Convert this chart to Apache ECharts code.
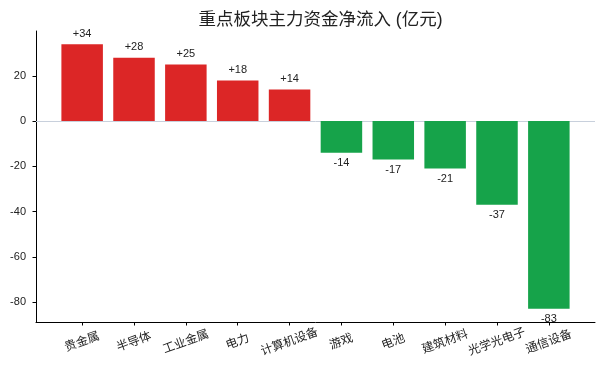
<!DOCTYPE html>
<html>
<head>
<meta charset="utf-8">
<script src="https://cdn.jsdelivr.net/npm/echarts@6/dist/echarts.min.js"></script>
<style>
html,body{margin:0;padding:0;background:#fff;}
#chart{width:602px;height:373px;}
</style>
</head>
<body>
<div id="chart"></div>
<script>
const title = '重点板块主力资金净流入 (亿元)';
const categories = ['贵金属', '半导体', '工业金属', '电力', '计算机设备', '游戏', '电池', '建筑材料', '光学光电子', '通信设备'];
const values = [34, 28, 25, 18, 14, -14, -17, -21, -37, -83];
const yTicks = [-80, -60, -40, -20, 0, 20];

const FONT = '"Liberation Sans", Arial, "Noto Sans CJK SC", sans-serif';
const RED = '#dc2626';
const GREEN = '#16a34a';

const chart = echarts.init(document.getElementById('chart'), null, {renderer: 'canvas'});
const catIdx = categories.map((c, i) => i);

chart.setOption({
  animation: false,
  backgroundColor: '#ffffff',
  title: {
    text: title,
    left: 315.5,
    textAlign: 'center',
    top: 6,
    textStyle: {fontFamily: FONT, fontSize: 17.5, fontWeight: 'normal', color: '#222'}
  },
  grid: {left: 36, right: 7, top: 31, bottom: 51, containLabel: false},
  xAxis: {
    type: 'value',
    min: -0.89,
    max: 9.89,
    splitLine: {show: false},
    axisLine: {show: true, onZero: false, lineStyle: {color: '#000', width: 1}},
    axisTick: {show: true, length: 3.5, lineStyle: {color: '#000'}, customValues: catIdx},
    axisLabel: {
      customValues: catIdx,
      formatter: v => categories[Math.round(v)] || '',
      rotate: 20,
      align: 'center',
      verticalAlign: 'middle',
      margin: 20,
      fontFamily: FONT,
      fontSize: 12,
      color: '#222'
    }
  },
  yAxis: {
    type: 'value',
    min: -88.85,
    max: 39.85,
    splitLine: {show: false},
    axisLine: {show: true, onZero: false, lineStyle: {color: '#000', width: 1}},
    axisTick: {show: true, length: 3.5, lineStyle: {color: '#000'}, customValues: yTicks},
    axisLabel: {customValues: yTicks, fontFamily: FONT, fontSize: 11, color: '#222', margin: 10}
  },
  series: [{
    type: 'bar',
    barWidth: 41.5,
    data: values.map((v, i) => ({
      value: [i, v],
      itemStyle: {color: v >= 0 ? RED : GREEN},
      label: {
        show: true,
        position: v >= 0 ? 'top' : 'bottom',
        distance: 5,
        formatter: (v > 0 ? '+' : '') + v,
        fontFamily: FONT,
        fontSize: 11,
        color: '#222'
      }
    })),
    markLine: {
      silent: true,
      symbol: 'none',
      label: {show: false},
      lineStyle: {color: '#c8d0dc', width: 1, type: 'solid'},
      data: [{yAxis: 0}],
      z: 1
    },
    z: 2
  }]
});
</script>
</body>
</html>
